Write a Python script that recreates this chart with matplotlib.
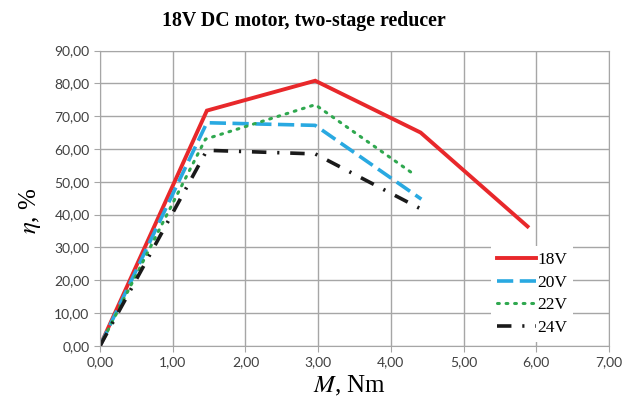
import matplotlib
matplotlib.use("Agg")
import matplotlib.pyplot as plt
from matplotlib.ticker import FuncFormatter

plt.rcParams['mathtext.fontset'] = 'stix'

# torque M, Nm and efficiency eta, %
m_18 = [0.0, 1.47, 2.96, 4.41, 5.88]
eta_18 = [0.0, 71.7, 80.8, 65.0, 36.4]
m_20 = [0.0, 1.47, 2.96, 4.42]
eta_20 = [0.0, 68.0, 67.2, 44.7]
m_22 = [0.0, 1.45, 2.96, 4.33]
eta_22 = [0.0, 63.0, 73.5, 52.1]
m_24 = [0.0, 1.47, 2.96, 4.39]
eta_24 = [0.0, 59.6, 58.5, 42.0]
labels = ['18V', '20V', '22V', '24V']

fig = plt.figure(figsize=(6.33, 3.98), dpi=100)
ax = fig.add_axes([0.158, 0.131, 0.804, 0.742])

ax.plot(m_18, eta_18, color='#e8282b', lw=2.8, label=labels[0], solid_joinstyle='miter')
ax.plot(m_20, eta_20, color='#29a9e1', lw=2.6, dashes=(4.5, 1.8), label=labels[1])
ax.plot(m_22, eta_22, color='#2fa84f', lw=2.2, dashes=(0.6, 2.2), dash_capstyle='round', label=labels[2])
ax.plot(m_24, eta_24, color='#1a1a1a', lw=2.6, dashes=(4.0, 3.0, 0.6, 3.0), label=labels[3])

ax.set_xlim(0, 7)
ax.set_ylim(0, 90)
ax.set_xticks(range(0, 8))
ax.set_yticks(range(0, 91, 10))
fmt = FuncFormatter(lambda v, p: f"{v:.2f}".replace('.', ','))
ax.xaxis.set_major_formatter(fmt)
ax.yaxis.set_major_formatter(fmt)
ax.grid(True, color='#a6a6a6', lw=1.0)
ax.set_axisbelow(True)
for s in ax.spines.values():
    s.set_color('#a6a6a6')
ax.tick_params(colors='#a6a6a6', labelcolor='#404040', labelsize=10, length=4,
               labelfontfamily='Lato')

ax.set_xlabel(r'$\mathit{M}$, Nm', family='Liberation Serif', fontsize=18)
ax.set_ylabel(r'$\eta$, %', family='Liberation Serif', fontsize=18)
ax.xaxis.set_label_coords(0.491, -0.095)
ax.yaxis.set_label_coords(-0.112, 0.457)

fig.text(0.48, 0.947, '18V DC motor, two-stage reducer', family='Liberation Serif',
         fontweight='bold', fontsize=14.3, ha='center', va='center')

leg = ax.legend(loc='lower right', bbox_to_anchor=(0.93, 0.012),
                frameon=True, facecolor='white', edgecolor='none', framealpha=1,
                prop={'family': 'Liberation Serif', 'size': 12.5}, handlelength=2.2,
                handletextpad=0.1, labelspacing=0.38, borderpad=0.35, borderaxespad=0)
leg.get_frame().set_boxstyle('square', pad=0)

fig.savefig('out.png', dpi=100)
